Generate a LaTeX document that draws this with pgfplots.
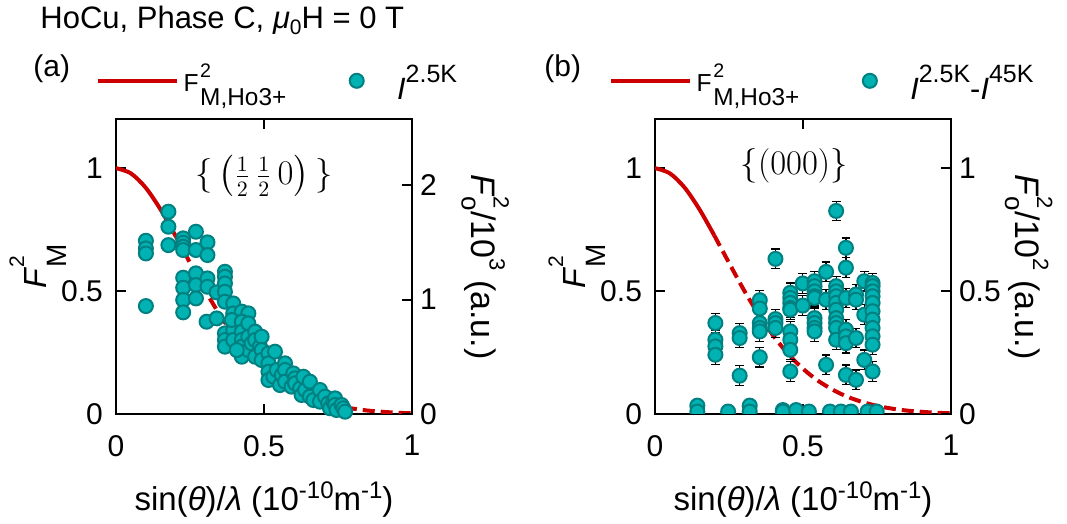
\documentclass[border=0pt]{standalone}
\usepackage{amsmath}
\usepackage{fontspec}
\setmainfont{Liberation Sans}
\usepackage{pgfplots}
\usepackage{pgfplotstable}
\pgfplotsset{compat=1.18}

\definecolor{ffred}{RGB}{204,0,0}
\definecolor{dotfill}{RGB}{0,178,178}
\definecolor{dotedge}{RGB}{0,128,128}

\newcommand{\fs}[1]{\fontsize{#1}{#1}\selectfont}

% squared magnetic form factor of Ho3+ (dipole approximation)
\pgfplotstableread{
x y
0.00 1.000
0.05 0.979
0.10 0.921
0.15 0.833
0.20 0.727
}\ffsolid
\pgfplotstableread{
x y
0.20 0.727
0.25 0.615
0.30 0.505
0.35 0.405
0.40 0.318
0.45 0.244
0.50 0.184
0.55 0.136
0.60 0.099
0.65 0.070
0.70 0.049
0.75 0.033
0.80 0.022
0.85 0.014
0.90 0.009
0.95 0.005
1.00 0.003
}\ffdashed

% observed intensities at 2.5 K, F_o^2 / 10^3
\pgfplotstableread{
x y
0.101 1.515
0.101 1.448
0.101 1.404
0.101 0.944
0.177 1.769
0.177 1.638
0.177 1.477
0.227 1.536
0.227 1.498
0.227 1.463
0.227 1.434
0.270 1.594
0.270 1.434
0.309 1.501
0.309 1.390
0.227 1.192
0.227 1.104
0.227 0.997
0.227 0.889
0.270 1.230
0.270 1.128
0.270 1.011
0.309 1.186
0.309 1.113
0.306 0.807
0.340 1.064
0.340 0.836
0.368 1.244
0.368 1.200
0.368 1.142
0.368 1.069
0.368 0.982
0.396 0.967
0.396 0.880
0.425 0.895
0.447 0.880
0.368 0.705
0.368 0.647
0.368 0.589
0.396 0.734
0.396 0.647
0.391 0.822
0.425 0.807
0.425 0.720
0.425 0.647
0.425 0.589
0.425 0.501
0.447 0.793
0.447 0.676
0.447 0.559
0.408 0.559
0.458 0.618
0.470 0.720
0.470 0.647
0.470 0.501
0.486 0.589
0.492 0.676
0.492 0.559
0.492 0.472
0.515 0.530
0.515 0.443
0.515 0.370
0.515 0.297
0.532 0.326
0.537 0.545
0.543 0.385
0.554 0.253
0.560 0.341
0.571 0.443
0.571 0.385
0.571 0.283
0.593 0.239
0.599 0.355
0.605 0.312
0.605 0.268
0.622 0.224
0.627 0.166
0.633 0.326
0.639 0.210
0.655 0.283
0.655 0.152
0.667 0.122
0.689 0.210
0.689 0.108
0.706 0.152
0.717 0.093
0.723 0.050
0.734 0.108
0.740 0.137
0.740 0.079
0.745 0.035
0.762 0.079
0.768 0.050
0.774 0.020
}\obsA

% difference 2.5 K - 45 K, F_o^2 / 10^2, with errors
\pgfplotstableread{
x y e
0.204 0.370 0.04
0.204 0.302 0.04
0.204 0.275 0.04
0.204 0.241 0.04
0.286 0.329 0.04
0.286 0.309 0.04
0.286 0.156 0.04
0.354 0.463 0.04
0.354 0.429 0.04
0.354 0.370 0.04
0.354 0.350 0.04
0.354 0.336 0.04
0.354 0.231 0.04
0.407 0.631 0.04
0.407 0.386 0.04
0.407 0.370 0.04
0.407 0.350 0.04
0.457 0.493 0.04
0.457 0.472 0.04
0.457 0.452 0.04
0.457 0.431 0.04
0.457 0.424 0.04
0.457 0.336 0.04
0.457 0.302 0.04
0.457 0.261 0.04
0.457 0.173 0.04
0.499 0.531 0.04
0.499 0.441 0.04
0.539 0.540 0.04
0.539 0.520 0.04
0.539 0.499 0.04
0.539 0.479 0.04
0.539 0.472 0.04
0.539 0.390 0.04
0.539 0.370 0.04
0.539 0.350 0.04
0.539 0.336 0.04
0.578 0.578 0.04
0.578 0.465 0.04
0.578 0.200 0.04
0.612 0.826 0.04
0.612 0.520 0.04
0.612 0.499 0.04
0.612 0.479 0.04
0.612 0.452 0.04
0.612 0.424 0.04
0.612 0.390 0.04
0.612 0.370 0.04
0.612 0.350 0.04
0.612 0.302 0.04
0.645 0.676 0.04
0.645 0.595 0.04
0.645 0.472 0.04
0.645 0.343 0.04
0.645 0.316 0.04
0.645 0.288 0.04
0.645 0.159 0.04
0.679 0.486 0.04
0.679 0.465 0.04
0.679 0.309 0.04
0.679 0.139 0.04
0.707 0.540 0.04
0.707 0.404 0.04
0.707 0.220 0.04
0.735 0.533 0.04
0.735 0.520 0.04
0.735 0.499 0.04
0.735 0.479 0.04
0.735 0.452 0.04
0.735 0.418 0.04
0.735 0.384 0.04
0.735 0.350 0.04
0.735 0.316 0.04
0.735 0.282 0.04
0.735 0.173 0.04
}\obsB
\pgfplotstableread{
x y
0.143 0.034
0.143 0.010
0.247 0.010
0.320 0.034
0.320 0.010
0.432 0.016
0.432 0.010
0.477 0.016
0.520 0.010
0.591 0.010
0.628 0.010
0.662 0.010
0.718 0.010
0.749 0.010
}\obsBzero

\pgfplotsset{
  panel/.style={
    at={(#1)}, anchor=south west,
    scale only axis, width=148pt, height=147.5pt,
    xmin=0, xmax=1, ymin=0,
    axis line style={line width=1.1pt},
    every tick/.style={black, line width=1.1pt},
    major tick length=5pt, tick align=inside,
    tick label style={font=\fs{15}},
    /pgf/number format/assume math mode=true,
    label style={font=\fs{16.5}},
  },
  leftaxis/.style={
    panel={#1}, ymax=1.2,
    xtick={0,0.5,1}, ytick={0,0.5,1}, ytick pos=left,
    xticklabel style={yshift=-7pt},
    yticklabel style={xshift=-3pt},
    xlabel={sin(\textit{θ})/\textit{λ} (10\raisebox{6pt}{\fs{12}-10}m\raisebox{6pt}{\fs{12}-1})},
    xlabel style={at={(axis description cs:0.5,-0.29)}, anchor=center},
    ylabel={\fs{16}\textit{F}\rlap{\raisebox{11pt}{\fs{10.5}2}}\raisebox{-10pt}{\fs{14}M}},
    ylabel style={at={(axis description cs:-0.264,0.502)}, anchor=center},
  },
  rightaxis/.style={
    panel={#1},
    axis x line=none, axis y line*=right,
    yticklabel style={xshift=0.5pt},
    ylabel style={anchor=center, rotate=180},
    legend columns=2,
    legend style={draw=none, fill=none, inner sep=0pt, outer sep=0pt,
      nodes={inner sep=0pt, anchor=base west},
      /tikz/every even column/.append style={column sep=25pt}},
  },
  dots/.style={only marks, mark=*, mark size=3.5pt,
    mark options={fill=dotfill, draw=dotedge, line width=1pt}},
  dotlegend/.style={legend image code/.code={%
    \path (-10pt,0pt) (20pt,0pt);
    \draw[only marks, mark=*, mark size=3.5pt,
      mark options={fill=dotfill, draw=dotedge, line width=1pt}]
      plot coordinates {(0pt,5.5pt)};}},
  linelegend/.style={legend image code/.code={%
    \draw[ffred, line width=2.2pt] (0pt,5.5pt) -- (39.5pt,5.5pt);
    \path (42.5pt,0pt);}},
  ffline/.style={ffred, line width=2pt, smooth},
  ffdash/.style={ffred, line width=2pt, smooth, dash pattern=on 6pt off 3pt},
}

\newcommand{\legF}{\fs{12.3}F\hspace{0.8pt}\rlap{\raisebox{7pt}{\fs{9.8}2}}\raisebox{-6.75pt}{\fs{12.2}M,Ho3+}}
\newcommand{\Iup}[1]{\textit{I}\raisebox{8.5pt}{\fs{12.5}#1}}

\begin{document}
\begin{tikzpicture}[x=1pt,y=1pt]
\path[use as bounding box] (0,0) rectangle (533.5,262);

\node[anchor=base west, inner sep=0pt, font=\fs{15.5}] at (20,247.5)
  {HoCu, Phase C, \textit{μ}\raisebox{-3pt}{\fs{10.5}0}H = 0 T};
\node[anchor=base west, inner sep=0pt, font=\fs{15}] at (16.5,223.6) {(a)};
\node[anchor=base west, inner sep=0pt, font=\fs{15}] at (272,223.6) {(b)};

% ---------------- panel (a) ----------------
\begin{axis}[leftaxis={58pt,55pt}]
  \addplot[ffline] table {\ffsolid};
  \addplot[ffdash] table {\ffdashed};
  \node[font=\fs{16}] at (axis cs:0.5,0.967)
    {$\{\,\bigl(\tfrac{1}{2}\,\tfrac{1}{2}\,0\bigr)\,\}$};
\end{axis}
\begin{axis}[rightaxis={58pt,55pt}, ymax=2.58, ytick={0,1,2},
    ylabel={\fs{17}\textit{F}\rlap{\raisebox{11pt}{\fs{11}2}}\raisebox{-5pt}{\fs{13}o}/10\raisebox{9pt}{\fs{11}3} (a.u.)},
    ylabel style={at={(axis description cs:1.247,0.498)}},
    legend style={at={(axis description cs:-0.0676,1.186)}, anchor=north west}]
  \addlegendimage{linelegend}
  \addlegendentry{\legF}
  \addplot[dots, dotlegend] table {\obsA};
  \addlegendentry{\fs{15.4}\raisebox{-4pt}{\Iup{2.5K}}}
\end{axis}

% ---------------- panel (b) ----------------
\begin{axis}[leftaxis={327.5pt,55pt}]
  \addplot[ffline] table {\ffsolid};
  \addplot[ffdash] table {\ffdashed};
  \node[font=\fs{16.5}] at (axis cs:0.47,1.008) {$\{(000)\}$};
\end{axis}
\begin{axis}[rightaxis={327.5pt,55pt}, ymax=1.2, ytick={0,0.5,1},
    clip marker paths=true,
    ylabel={\fs{17}\textit{F}\rlap{\raisebox{11pt}{\fs{11}2}}\raisebox{-5pt}{\fs{13}o}/10\raisebox{9pt}{\fs{11}2} (a.u.)},
    ylabel style={at={(axis description cs:1.262,0.498)}},
    legend style={at={(axis description cs:-0.155,1.186)}, anchor=north west}]
  \addlegendimage{linelegend}
  \addlegendentry{\legF}
  \addplot[dots, dotlegend,
    error bars/.cd, y dir=both, y explicit,
    error bar style={black, line width=0.6pt},
    error mark options={rotate=90, mark size=2.2pt, black, line width=0.6pt}]
    table[y error=e] {\obsB};
  \addlegendentry{\fs{15.4}\raisebox{-4pt}{\Iup{2.5K}-\Iup{45K}}}
  \addplot[dots, forget plot] table {\obsBzero};
\end{axis}
\end{tikzpicture}
\end{document}
